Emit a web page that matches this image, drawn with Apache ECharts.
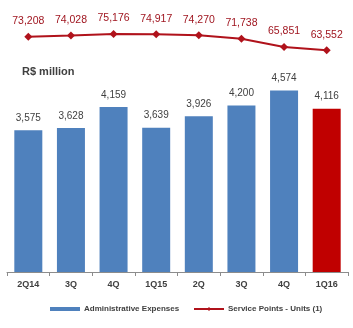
<!DOCTYPE html>
<html>
<head>
<meta charset="utf-8">
<script src="https://cdn.jsdelivr.net/npm/echarts@6/dist/echarts.min.js"></script>
<style>
  html, body { margin: 0; padding: 0; background: #fff; }
  #chart { width: 353px; height: 328px; }
</style>
</head>
<body>
<div id="chart"></div>
<script>
// Quarterly categories
const quarters = ['2Q14', '3Q', '4Q', '1Q15', '2Q', '3Q', '4Q', '1Q16'];
// Administrative expenses, R$ million
const adminExpenses = [3575, 3628, 4159, 3639, 3926, 4200, 4574, 4116];
// Service points, units
const servicePoints = [73208, 74028, 75176, 74917, 74270, 71738, 65851, 63552];

const BLUE = '#4f81bd';
const RED_BAR = '#c00000';
const RED_LINE = '#b0121b';
const TEXT = '#404040';
const FONT = '"Liberation Sans", Arial, sans-serif';

const fmt = v => v.toLocaleString('en-US');

const chart = echarts.init(document.getElementById('chart'), null, { renderer: 'canvas' });

chart.setOption({
  animation: false,
  textStyle: { fontFamily: FONT },
  title: {
    text: 'R$ million',
    left: 17,
    top: 61,
    textStyle: { fontSize: 11, fontWeight: 'bold', color: TEXT, fontFamily: FONT }
  },
  legend: [
    {
      data: [{ name: 'Administrative Expenses', icon: 'rect' }],
      left: 45, top: 300,
      itemWidth: 30, itemHeight: 4, itemGap: 4,
      textStyle: { fontSize: 8, fontWeight: 'bold', color: TEXT, fontFamily: FONT, padding: [0, 0, 0, -1] }
    },
    {
      data: ['Service Points - Units (1)'],
      left: 188, top: 300,
      itemWidth: 30, itemHeight: 5,
      textStyle: { fontSize: 8, fontWeight: 'bold', color: TEXT, fontFamily: FONT, padding: [0, 0, 0, -1] }
    }
  ],
  grid: [
    { left: 7, right: 5, top: 34, bottom: 56 },
    { left: 7, right: 5, top: 32.85, height: 22.4 }
  ],
  xAxis: [
    {
      type: 'category', data: quarters, gridIndex: 0,
      axisLine: { lineStyle: { color: '#8c8c8c', width: 1 } },
      axisTick: { show: true, length: 4, alignWithLabel: false, lineStyle: { color: '#8c8c8c' } },
      axisLabel: { fontSize: 9, fontWeight: 'bold', color: TEXT, margin: 8, fontFamily: FONT }
    },
    {
      type: 'category', data: quarters, gridIndex: 1, show: false
    }
  ],
  yAxis: [
    { type: 'value', gridIndex: 0, min: 0, max: 6000, show: false, splitLine: { show: false } },
    { type: 'value', gridIndex: 1, min: 60000, max: 76000, show: false, splitLine: { show: false } }
  ],
  series: [
    {
      name: 'Administrative Expenses',
      type: 'bar',
      xAxisIndex: 0, yAxisIndex: 0,
      barWidth: 28,
      itemStyle: { color: BLUE },
      data: adminExpenses.map((v, i) => ({
        value: v,
        itemStyle: { color: i === adminExpenses.length - 1 ? RED_BAR : BLUE }
      })),
      label: {
        show: true, position: 'top', distance: 7,
        fontSize: 10, color: TEXT, fontFamily: FONT,
        formatter: p => fmt(p.value)
      }
    },
    {
      name: 'Service Points - Units (1)',
      type: 'line',
      xAxisIndex: 1, yAxisIndex: 1,
      data: servicePoints,
      symbol: 'diamond',
      symbolSize: 8,
      lineStyle: { color: RED_LINE, width: 2 },
      itemStyle: { color: RED_LINE },
      label: {
        show: true, position: 'top', distance: 6,
        fontSize: 10.5, color: '#a01620', fontFamily: FONT,
        formatter: p => fmt(p.value)
      }
    }
  ]
});
</script>
</body>
</html>
